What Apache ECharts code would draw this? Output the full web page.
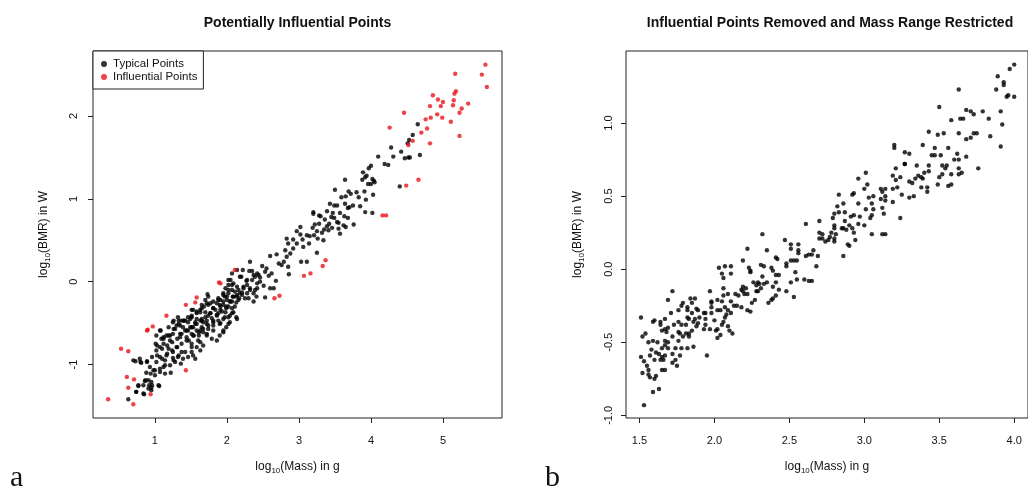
<!DOCTYPE html>
<html>
<head>
<meta charset="utf-8">
<script src="https://cdn.jsdelivr.net/npm/echarts@6/dist/echarts.min.js"></script>
<style>
html,body{margin:0;padding:0;background:#fff;}
#chart{width:1028px;height:490px;}
</style>
</head>
<body>
<div id="chart"></div>
<script>
// ---------- Panel a: typical (black) points, log10(Mass) vs log10(BMR) ----------
const typicalPoints = [
[4.65,1.90],[4.58,1.77],[4.53,1.71],[4.51,1.67],[4.28,1.62],[4.42,1.57],[4.68,1.53],[4.10,1.51],[4.31,1.51],[4.47,1.49],[4.52,1.50],[4.54,1.50],[4.19,1.42],[4.24,1.41],[4.00,1.40],[3.97,1.37],[3.89,1.32],[3.94,1.28],[3.92,1.26],[3.64,1.23],[3.88,1.23],[4.02,1.24],[4.04,1.22],[4.05,1.20],[4.00,1.18],[3.96,1.18],[4.40,1.15],[3.50,1.11],[3.69,1.09],[3.72,1.06],[3.80,1.08],[3.91,1.09],[4.03,1.05],[3.59,1.02],[3.65,1.03],[3.83,1.02],[3.93,0.99],[3.43,0.94],[3.49,0.92],[3.53,0.92],[3.64,0.94],[3.75,0.92],[3.70,0.90],[3.85,0.91],[3.68,0.89],[3.20,0.84],[3.20,0.82],[3.39,0.85],[3.47,0.83],[3.57,0.83],[3.28,0.80],[3.30,0.79],[3.92,0.84],[4.02,0.83],[3.45,0.78],[3.49,0.77],[3.63,0.79],[3.68,0.77],[3.36,0.75],[3.53,0.72],[3.55,0.71],[3.22,0.69],[3.28,0.70],[3.42,0.70],[3.62,0.68],[3.76,0.69],[3.65,0.66],[3.02,0.66],[2.97,0.61],[3.02,0.57],[3.19,0.65],[3.39,0.67],[3.46,0.65],[3.35,0.63],[3.41,0.62],[3.55,0.64],[3.25,0.61],[3.32,0.59],[3.21,0.56],[3.15,0.55],[3.11,0.56],[3.57,0.58],[2.83,0.52],[2.92,0.51],[3.05,0.51],[3.26,0.52],[3.34,0.50],
[3.25,0.35],[3.11,0.24],[3.03,0.24],[3.14,0.46],[3.06,0.42],[2.97,0.46],[2.92,0.40],[2.88,0.34],[2.83,0.30],[2.79,0.24],[2.72,0.22],[2.76,0.20],[2.85,0.18],[2.86,0.09],[2.81,0.38],[2.85,0.46],[2.60,0.31],[2.69,0.33],[2.32,0.24],[2.49,0.19],[2.55,0.16],[2.53,0.12],[2.62,0.10],[2.58,0.07],[2.68,0.01],[2.35,0.13],[2.20,0.06],[2.28,0.02],[2.42,0.10],[2.46,0.00],[2.51,-0.05],[2.60,-0.08],[2.65,-0.08],[2.53,-0.19],[2.42,-0.08],[2.37,-0.14],[2.32,-0.10],[2.28,-0.04],[2.23,-0.08],[2.16,-0.10],[2.14,-0.16],[2.21,-0.16],[2.30,-0.20],[2.37,-0.24],[2.41,-0.18],[2.05,0.02],[2.09,-0.02],[2.02,-0.04],[1.98,-0.08],[2.07,-0.10],[2.02,-0.14],[1.95,-0.16],[2.09,-0.18],[2.16,-0.22],[2.07,-0.24],[2.00,-0.22],[1.91,-0.22],[1.86,-0.26],[1.95,-0.28],[2.02,-0.30],[2.11,-0.30],[1.73,-0.15],[1.70,-0.22],[1.77,-0.26],[1.68,-0.30],[1.81,-0.32],[1.91,-0.34],[1.98,-0.37],[2.07,-0.38],[2.14,-0.45],[2.02,-0.43],[1.95,-0.45],[1.86,-0.41],[1.77,-0.38],[1.70,-0.37],[1.63,-0.34],[1.58,-0.38],[1.51,-0.34],[1.65,-0.45],[1.72,-0.47],[1.81,-0.49],[1.91,-0.50],[2.02,-0.51],[1.49,-0.45],[1.40,-0.47],[1.33,-0.47],[1.26,-0.47],[1.56,-0.49],[2.39,0.06],[2.46,0.05],
[0.63,-1.42],[0.74,-1.33],[0.85,-1.36],[0.77,-1.26],[0.95,-1.31],[0.92,-1.25],[0.95,-1.28],[1.06,-1.26],[0.86,-1.20],[0.91,-1.19],[0.95,-1.21],[0.88,-1.10],[0.73,-0.96],[0.81,-0.98],[0.89,-0.96],[0.93,-1.03],[0.98,-1.07],[1.00,-1.13],[1.07,-1.09],[1.12,-1.03],[1.14,-1.11],[1.22,-1.10],[1.02,-0.97],[1.07,-0.91],[1.14,-0.95],[1.16,-0.89],[1.21,-1.01],[1.28,-0.97],[1.25,-0.92],[1.36,-0.99],[1.02,-0.83],[1.07,-0.79],[1.01,-0.75],[1.12,-0.75],[1.19,-0.81],[1.25,-0.85],[1.32,-0.91],[1.39,-0.93],[1.46,-0.91],[1.53,-0.89],[1.37,-0.85],[1.30,-0.79],[1.21,-0.71],[1.09,-0.69],[1.16,-0.65],[1.25,-0.63],[1.35,-0.67],[1.44,-0.71],[1.51,-0.75],[1.58,-0.79],[1.63,-0.83],[1.67,-0.77],[1.60,-0.71],[1.53,-0.65],[1.46,-0.59],[1.39,-0.55],[1.30,-0.53],[1.37,-0.47],[1.46,-0.49],[1.53,-0.55],[1.63,-0.59],[1.72,-0.63],[1.79,-0.69],[1.86,-0.71],[1.90,-0.65],[1.95,-0.61],[1.81,-0.59],[1.74,-0.53],[1.67,-0.49],[1.58,-0.45],[1.51,-0.41],[1.63,-0.37],[1.74,-0.41],[1.81,-0.47],[1.90,-0.51],[1.99,-0.55],[2.04,-0.49],[1.97,-0.43],[1.88,-0.38],[1.81,-0.32],[1.90,-0.28],[1.99,-0.32],[2.09,-0.37],[2.13,-0.43],[2.05,-0.24],[2.13,-0.18],[2.18,-0.14],[1.97,-0.18],[1.88,-0.22],[1.74,-0.18],[1.72,-0.26],[1.65,-0.28],[1.53,-0.34],[1.46,-0.43],[1.32,-0.43],[1.25,-0.49],[1.19,-0.55],[1.08,-0.59],[1.02,-0.65],[0.79,-0.93],[2.04,-0.41],
[2.22,0.14],[2.31,0.13],[2.18,0.06],[2.27,0.01],[2.35,0.02],[2.42,-0.02],[2.07,-0.04],[2.14,-0.06],[2.23,-0.06],[2.32,-0.08],[2.39,-0.10],[2.02,-0.10],[2.11,-0.12],[2.21,-0.13],[2.28,-0.14],[2.00,-0.18],[2.08,-0.18],[2.17,-0.20],[2.25,-0.20],[1.95,-0.24],[2.04,-0.24],[2.13,-0.25],[1.91,-0.30],[1.99,-0.30],[2.07,-0.32],[1.84,-0.34],[1.93,-0.36],[1.77,-0.38],[1.86,-0.40],[1.70,-0.43],[1.79,-0.44],[1.88,-0.47],[1.63,-0.47],[1.72,-0.51],[1.81,-0.53],[1.56,-0.51],[1.65,-0.55],[1.74,-0.57],[1.49,-0.55],[1.58,-0.59],[1.67,-0.61],[1.42,-0.59],[1.51,-0.63],[1.61,-0.65],[1.35,-0.63],[1.44,-0.67],[1.28,-0.57],[1.35,-0.53],[1.42,-0.47],[1.51,-0.43],[1.58,-0.36],[1.65,-0.32],[1.74,-0.28],[1.81,-0.24],[1.88,-0.20],[1.95,-0.14],[2.07,0.10],[2.14,0.14],[2.02,0.02],[2.44,0.08],[2.37,0.08],[1.95,-0.59],[1.21,-0.65],[1.12,-0.67],
[1.07,-0.59],[1.12,-0.69],[1.19,-0.65],[1.26,-0.57],[1.33,-0.51],[1.40,-0.47],[1.03,-0.77],[1.10,-0.81],[1.17,-0.77],[1.24,-0.73],[1.31,-0.69],[1.37,-0.63],[1.44,-0.59],[1.51,-0.55],[1.58,-0.51],[1.65,-0.47],[0.96,-0.91],[1.03,-0.89],[1.10,-0.93],[1.17,-0.87],[1.24,-0.83],[1.31,-0.79],[1.37,-0.75],[1.47,-0.71],[1.54,-0.65],[1.61,-0.61],[1.67,-0.57],[1.72,-0.65],[1.63,-0.73],[1.51,-0.79],[1.42,-0.85],[1.33,-0.89],[1.26,-0.95],[1.14,-1.01],[1.07,-1.05],[1.00,-1.07],[0.94,-1.11],[0.87,-1.19],[0.84,-1.25],[0.91,-1.29],[0.96,-1.25],[0.77,-1.25],[0.74,-1.33],[0.84,-1.35],[1.05,-1.25],[0.70,-0.95],[0.80,-0.97],[0.89,-0.97],[1.56,-0.93],[1.51,-0.85]
];

// ---------- Panel a: influential (red) points ----------
const influentialPoints = [
[5.59,2.62],[5.17,2.51],[5.54,2.50],[5.61,2.35],[4.86,2.25],[5.18,2.30],[5.16,2.27],[4.93,2.20],[5.00,2.17],[5.15,2.19],[4.82,2.12],[4.97,2.12],[5.14,2.13],[5.35,2.15],[5.26,2.09],[4.46,2.04],[5.23,2.04],[4.92,2.02],[4.83,1.98],[4.76,1.96],[4.99,1.98],[5.11,1.93],[4.26,1.86],[4.78,1.85],[4.70,1.80],[5.23,1.76],[4.58,1.70],[4.52,1.65],[4.82,1.67],[4.66,1.23],[4.49,1.16],[4.16,0.80],[4.21,0.80],
[2.11,0.14],[1.89,-0.01],[1.91,-0.02],[1.58,-0.19],[1.56,-0.25],[1.43,-0.28],[2.66,-0.20],[2.73,-0.17],[3.07,0.07],[3.16,0.10],[3.33,0.19],[3.37,0.26],
[1.16,-0.41],[0.97,-0.54],[0.90,-0.58],[0.89,-0.59],[0.53,-0.81],[0.63,-0.84],[1.43,-1.07],[0.61,-1.15],[0.71,-1.18],[0.63,-1.28],[0.94,-1.36],[0.35,-1.42],[0.70,-1.48]
];

// ---------- Panel b: points kept after removal and mass restriction ----------
const restrictedPoints = [
[1.53,-0.93],[1.59,-0.84],[1.63,-0.82],[1.52,-0.71],[1.51,-0.60],[1.51,-0.33],[1.52,-0.46],[1.54,-0.44],[1.56,-0.72],[1.57,-0.74],[1.60,-0.75],[1.61,-0.73],[1.55,-0.66],[1.56,-0.69],[1.53,-0.63],[1.59,-0.36],[1.60,-0.35],[1.64,-0.36],[1.56,-0.50],[1.59,-0.49],[1.62,-0.50],[1.58,-0.55],[1.61,-0.57],[1.57,-0.59],[1.63,-0.58],[1.65,-0.60],[1.60,-0.62],[1.64,-0.62],[1.66,-0.62],[1.67,-0.59],[1.65,-0.69],[1.67,-0.69],[1.65,-0.54],[1.67,-0.52],[1.69,-0.54],[1.67,-0.49],[1.69,-0.50],[1.72,-0.46],[1.68,-0.43],[1.65,-0.42],[1.67,-0.41],[1.69,-0.40],[1.64,-0.38],[1.67,-0.34],[1.69,-0.21],[1.71,-0.30],[1.72,-0.15],[1.73,-0.38],[1.74,-0.54],[1.72,-0.58],[1.74,-0.62],[1.75,-0.66],[1.72,-0.64],[1.77,-0.59],[1.78,-0.54],[1.76,-0.49],[1.77,-0.44],[1.76,-0.43],[1.79,-0.46],[1.81,-0.44],[1.83,-0.46],[1.82,-0.54],[1.86,-0.53],[1.76,-0.36],[1.78,-0.38],[1.81,-0.38],[1.76,-0.28],[1.78,-0.25],[1.79,-0.23],[1.82,-0.28],[1.82,-0.26],[1.84,-0.20],[1.85,-0.23],[1.82,-0.33],[1.83,-0.34],[1.85,-0.30],[1.86,-0.36],[1.87,-0.34],[1.89,-0.37],[1.88,-0.39],[1.85,-0.42],[1.83,-0.44],[1.87,-0.20],[1.88,-0.27],[1.90,-0.33],[1.93,-0.30],[1.94,-0.30],[1.93,-0.41],[1.94,-0.38],[1.97,-0.41],[1.95,-0.59],[1.97,-0.15],[1.98,-0.23],[1.98,-0.22],[1.98,-0.26],[1.98,-0.30],[2.00,-0.35],[2.02,-0.41],[2.01,-0.42],[2.02,-0.47],[2.05,-0.38],[2.06,-0.36],[2.04,-0.45],[2.09,-0.39],[2.10,-0.42],[2.12,-0.44],[2.02,-0.28],[2.04,-0.28],[2.07,-0.26],[2.05,-0.22],[2.06,-0.18],[2.02,-0.21],[2.09,-0.28],[2.11,-0.30],[2.07,-0.33],[2.08,-0.31],[2.06,-0.13],[2.09,-0.17],[2.11,-0.22],[2.13,-0.25],[2.15,-0.25],[2.16,-0.18],[2.14,-0.17],[2.18,-0.14],[2.19,-0.15],[2.20,-0.17],[2.22,-0.17],[2.19,-0.12],[2.21,-0.13],[2.18,-0.26],[2.22,-0.28],[2.24,-0.29],[2.25,-0.23],[2.27,-0.21],[2.28,-0.15],[2.29,-0.15],[2.28,-0.11],[2.26,-0.09],[2.29,-0.09],[2.30,-0.10],[2.31,-0.13],[2.32,-0.05],[2.33,-0.10],[2.31,0.03],[2.33,0.02],[2.38,0.01],[2.39,-0.01],[2.41,-0.04],[2.43,-0.04],[2.35,-0.09],[2.39,-0.12],[2.41,-0.09],[2.43,-0.14],[2.41,-0.18],[2.39,-0.20],[2.38,-0.21],[2.36,-0.23],[2.24,-0.01],[2.24,-0.02],[2.23,0.01],[2.07,0.02],[2.11,0.02],[2.03,0.01],[2.05,-0.03],[2.11,-0.03],[2.06,-0.06],[1.94,-0.34],[1.89,-0.28],[2.22,0.14],[2.19,0.06],
[3.27,0.72],[3.21,0.69],[3.19,0.64],[3.24,0.63],[3.21,0.61],[3.22,0.56],[3.19,0.55],[3.25,0.51],[3.19,0.46],[3.24,0.35],[3.01,0.66],[2.96,0.62],[3.02,0.58],[3.00,0.55],[3.11,0.55],[3.12,0.53],[3.14,0.55],[3.14,0.50],[3.14,0.47],[3.11,0.48],[3.06,0.50],[3.03,0.49],[3.05,0.45],[3.01,0.41],[3.06,0.41],[3.05,0.37],[3.04,0.35],[3.12,0.42],[3.13,0.38],[2.96,0.45],[2.97,0.36],[2.96,0.31],[3.00,0.30],[3.05,0.24],[3.12,0.24],[3.14,0.24],[2.93,0.52],[2.92,0.51],[2.83,0.51],[2.86,0.45],[2.82,0.43],[2.87,0.39],[2.83,0.39],[2.80,0.38],[2.91,0.36],[2.93,0.37],[2.87,0.33],[2.90,0.30],[2.92,0.28],[2.80,0.30],[2.80,0.28],[2.79,0.35],[2.85,0.28],[2.86,0.28],[2.88,0.27],[2.93,0.25],[2.94,0.20],[2.78,0.25],[2.81,0.24],[2.77,0.22],[2.76,0.20],[2.80,0.21],[2.80,0.19],[2.74,0.19],[2.72,0.24],[2.70,0.25],[2.70,0.21],[2.72,0.21],[2.70,0.33],[2.61,0.31],[2.89,0.17],[2.90,0.16],[2.86,0.09],[2.47,0.20],[2.32,0.24],[2.35,0.13],[2.51,0.17],[2.51,0.14],[2.56,0.17],[2.56,0.13],[2.56,0.11],[2.66,0.13],[2.63,0.10],[2.61,0.09],[2.65,0.10],[2.69,0.09],[2.41,0.08],[2.42,0.07],[2.51,0.06],[2.53,0.06],[2.55,0.06],[2.48,0.04],[2.48,0.02],[2.68,0.02],[2.54,-0.02],[2.60,-0.07],[2.63,-0.08],[2.65,-0.08],[2.55,-0.07],[2.51,-0.09],[2.48,-0.15],[2.53,-0.19],
[4.00,1.40],[3.97,1.37],[3.89,1.32],[3.93,1.28],[3.93,1.26],[3.88,1.23],[3.96,1.19],[3.95,1.18],[4.00,1.18],[3.63,1.23],[3.50,1.11],[3.68,1.09],[3.71,1.08],[3.73,1.06],[3.79,1.08],[3.91,1.08],[3.66,1.03],[3.64,1.03],[3.58,1.02],[3.83,1.03],[3.92,0.99],[3.43,0.94],[3.49,0.92],[3.53,0.93],[3.63,0.93],[3.73,0.93],[3.75,0.93],[3.68,0.89],[3.71,0.90],[3.84,0.91],[3.91,0.84],[3.39,0.85],[3.20,0.85],[3.20,0.83],[3.27,0.80],[3.30,0.79],[3.47,0.83],[3.56,0.83],[3.45,0.78],[3.47,0.78],[3.51,0.78],[3.62,0.79],[3.63,0.75],[3.68,0.77],[3.60,0.75],[3.27,0.72],[3.35,0.71],[3.43,0.71],[3.52,0.71],[3.55,0.71],[3.54,0.69],[3.63,0.69],[3.76,0.69],[3.43,0.67],[3.40,0.66],[3.36,0.64],[3.38,0.63],[3.34,0.62],[3.30,0.60],[3.32,0.59],[3.39,0.62],[3.52,0.65],[3.58,0.65],[3.63,0.65],[3.65,0.66],[3.50,0.63],[3.49,0.58],[3.58,0.58],[3.56,0.57],[3.38,0.56],[3.42,0.56],[3.42,0.53],[3.33,0.50],[3.30,0.49]
];

// ---------- Tick values ----------
const xTicksA = [1, 2, 3, 4, 5];
const yTicksA = [-1, 0, 1, 2];
const xTicksB = [1.5, 2.0, 2.5, 3.0, 3.5, 4.0];
const yTicksB = [-1.0, -0.5, 0.0, 0.5, 1.0];

const FONT = 'Liberation Sans';
const RED = '#e8141c';

function nameRich() {
  return {
    n: {fontSize: 12, fontFamily: FONT, color: '#111', lineHeight: 16},
    s: {fontSize: 8, fontFamily: FONT, color: '#111', verticalAlign: 'bottom', lineHeight: 9}
  };
}

function valueAxis(opts) {
  return Object.assign({
    type: 'value',
    scale: true,
    splitLine: {show: false},
    axisLine: {show: false, onZero: false},
    nameLocation: 'middle'
  }, opts);
}

const chart = echarts.init(document.getElementById('chart'), null, {renderer: 'canvas'});

const option = {
  animation: false,
  backgroundColor: '#fff',
  title: [
    {text: 'Potentially Influential Points', left: 292.5, top: 11, textAlign: 'center',
     textStyle: {fontSize: 14, fontWeight: 'bold', fontFamily: FONT, color: '#111'}},
    {text: 'Influential Points Removed and Mass Range Restricted', left: 825, top: 11, textAlign: 'center',
     textStyle: {fontSize: 14, fontWeight: 'bold', fontFamily: FONT, color: '#111'}},
    {text: 'a', left: 5, top: 458,
     textStyle: {fontSize: 30, fontWeight: 'normal', fontFamily: 'Liberation Serif', color: '#111'}},
    {text: 'b', left: 540, top: 458,
     textStyle: {fontSize: 30, fontWeight: 'normal', fontFamily: 'Liberation Serif', color: '#111'}}
  ],
  legend: {
    data: ['Typical Points', 'Influential Points'],
    left: 93, top: 51,
    orient: 'vertical',
    icon: 'circle',
    itemWidth: 6, itemHeight: 6, itemGap: 1,
    padding: [7, 6, 6, 8],
    borderColor: '#222', borderWidth: 1, borderRadius: 0,
    backgroundColor: '#fff',
    textStyle: {fontSize: 11.5, fontFamily: FONT, color: '#111', padding: [0, 0, 0, 1]},
    selectedMode: false
  },
  grid: [
    {left: 93, top: 51, width: 409, height: 367, show: true, borderColor: '#222', borderWidth: 1, containLabel: false},
    {left: 626, top: 51, width: 408, height: 367, show: true, borderColor: '#222', borderWidth: 1, containLabel: false}
  ],
  xAxis: [
    valueAxis({gridIndex: 0, min: 0.14, max: 5.82,
      axisTick: {show: true, length: 5, lineStyle: {color: '#222'}, customValues: xTicksA},
      axisLabel: {fontSize: 11, fontFamily: FONT, color: '#111', margin: 17, customValues: xTicksA, formatter: v => String(v)},
      name: '{n|log}{s|10}{n|(Mass) in g}', nameGap: 41, nameTextStyle: {rich: nameRich()}}),
    valueAxis({gridIndex: 1, min: 1.41, max: 4.092,
      axisTick: {show: true, length: 5, lineStyle: {color: '#222'}, customValues: xTicksB},
      axisLabel: {fontSize: 11, fontFamily: FONT, color: '#111', margin: 17, customValues: xTicksB, formatter: v => v.toFixed(1)},
      name: '{n|log}{s|10}{n|(Mass) in g}', nameGap: 41, nameTextStyle: {rich: nameRich()}})
  ],
  yAxis: [
    valueAxis({gridIndex: 0, min: -1.646, max: 2.785,
      axisTick: {show: true, length: 5, lineStyle: {color: '#222'}, customValues: yTicksA},
      axisLabel: {fontSize: 11, fontFamily: FONT, color: '#111', margin: 14, rotate: 90, customValues: yTicksA, formatter: v => String(v)},
      name: '{n|log}{s|10}{n|(BMR) in W}', nameGap: 41, nameTextStyle: {rich: nameRich()}}),
    valueAxis({gridIndex: 1, min: -1.018, max: 1.493,
      axisTick: {show: true, length: 5, lineStyle: {color: '#222'}, customValues: yTicksB},
      axisLabel: {fontSize: 11, fontFamily: FONT, color: '#111', margin: 12, rotate: 90, customValues: yTicksB, formatter: v => v.toFixed(1)},
      name: '{n|log}{s|10}{n|(BMR) in W}', nameGap: 40, nameTextStyle: {rich: nameRich()}})
  ],
  series: [
    {name: 'Typical Points', type: 'scatter', xAxisIndex: 0, yAxisIndex: 0, data: typicalPoints,
     symbol: 'circle', symbolSize: 4.4, itemStyle: {color: '#000'}, silent: true},
    {name: 'Influential Points', type: 'scatter', xAxisIndex: 0, yAxisIndex: 0, data: influentialPoints,
     symbol: 'circle', symbolSize: 4.4, itemStyle: {color: RED}, silent: true},
    {name: 'Restricted Points', type: 'scatter', xAxisIndex: 1, yAxisIndex: 1, data: restrictedPoints,
     symbol: 'circle', symbolSize: 4.4, itemStyle: {color: '#000'}, silent: true}
  ]
};

chart.setOption(option);
</script>
</body>
</html>
